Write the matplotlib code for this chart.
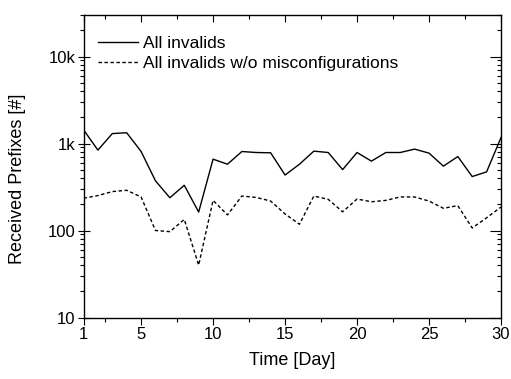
import matplotlib
matplotlib.use("Agg")
import matplotlib.pyplot as plt
from matplotlib.ticker import FixedLocator, LogLocator, NullFormatter

plt.rcParams['font.family'] = ['Liberation Sans', 'DejaVu Sans']

days = list(range(1, 31))
all_invalids = [1440, 840, 1300, 1330, 810, 372, 238, 331, 163, 661,
                578, 809, 788, 782, 434, 578, 817, 788, 501, 788,
                627, 788, 788, 862, 775, 549, 708, 417, 472, 1170]
no_misconf = [235, 252, 280, 290, 243, 100, 97, 134, 40, 222,
              151, 249, 240, 218, 155, 118, 249, 228, 164, 230,
              214, 222, 243, 243, 218, 180, 193, 107, 140, 186]
labels = ["All invalids", "All invalids w/o misconfigurations"]
xticks = [1, 5, 10, 15, 20, 25, 30]
yticks = [10, 100, 1000, 10000]
ytick_labels = ["10", "100", "1k", "10k"]

fig = plt.figure(figsize=(5.11, 3.79), dpi=100)
ax = fig.add_axes([83.5/511, 1-317.5/379, (501-83.5)/511, (317.5-15)/379])

ax.plot(days, all_invalids, color='black', lw=1.0, label=labels[0])
ax.plot(days, no_misconf, color='black', lw=1.0, ls=(0, (2.5, 1.8)), label=labels[1])

ax.set_yscale('log')
ax.set_xlim(1, 30)
ax.set_ylim(10, 30000)
ax.set_xticks(xticks)
ax.set_xticklabels([str(t) for t in xticks])
ax.xaxis.set_minor_locator(FixedLocator([2.5, 7.5, 12.5, 17.5, 22.5, 27.5]))
ax.set_yticks(yticks)
ax.set_yticklabels(ytick_labels)
ax.yaxis.set_minor_locator(LogLocator(base=10, subs=range(2, 10)))
ax.yaxis.set_minor_formatter(NullFormatter())

ax.tick_params(axis='both', which='both', labelsize=12, width=0.8, colors='black')
ax.tick_params(axis='x', which='major', direction='out', length=5, top=True, pad=2)
ax.tick_params(axis='x', which='minor', direction='out', length=3, top=True)
ax.tick_params(axis='y', which='major', direction='inout', length=8, right=True, pad=2)
ax.tick_params(axis='y', which='minor', direction='out', length=3, right=True)
# inward ticks on top/right
for t in ax.xaxis.get_major_ticks() + ax.xaxis.get_minor_ticks():
    t.tick2line.set_marker(3)  # TICKDOWN
for t in ax.yaxis.get_major_ticks() + ax.yaxis.get_minor_ticks():
    t.tick2line.set_marker(0)  # TICKLEFT

for s in ax.spines.values():
    s.set_linewidth(1.0)

ax.set_xlabel("Time [Day]", fontsize=13, labelpad=7)
ax.set_ylabel("Received Prefixes [#]", fontsize=13)
ax.yaxis.set_label_coords(-0.137, 0.46)

ax.legend(loc='upper left', frameon=False, fontsize=12.5, handlelength=2.3,
          handletextpad=0.3, labelspacing=0.3, borderaxespad=0.0,
          bbox_to_anchor=(0.018, 0.955))

fig.savefig("out.png", dpi=100)
